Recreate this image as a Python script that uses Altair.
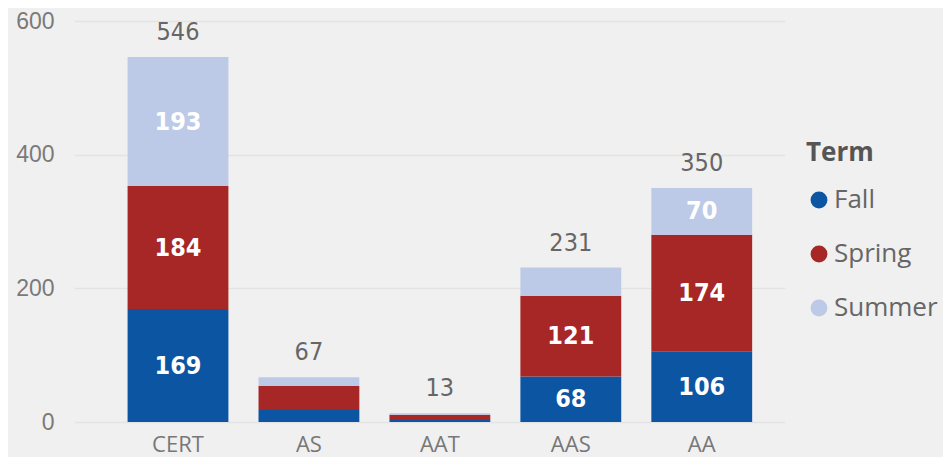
import altair as alt
import pandas as pd

categories = ["CERT", "AS", "AAT", "AAS", "AA"]
terms = ["Fall", "Spring", "Summer"]
fall = [169, 18, 3, 68, 106]
spring = [184, 36, 8, 121, 174]
summer = [193, 13, 2, 42, 70]
colors = ["#0B55A3", "#A72626", "#BCCAE7"]

rows = []
for i, c in enumerate(categories):
    for j, (t, vals) in enumerate(zip(terms, [fall, spring, summer])):
        rows.append({"Degree": c, "Term": t, "Value": vals[i], "ord": j})
df = pd.DataFrame(rows)

FONT = "Open Sans"
AXFONT = "Liberation Sans"
NUMFONT = "DejaVu Sans Condensed"

x_enc = alt.X("Degree:N", sort=categories, title=None,
              scale=alt.Scale(paddingInner=0.23, paddingOuter=0.33, align=0.62),
              axis=alt.Axis(labelAngle=0, labelFontSize=22, labelColor="#777777",
                            labelFont=FONT, domain=False, ticks=False, labelPadding=12))

base = alt.Chart(df)

bars = base.mark_bar().encode(
    x=x_enc,
    y=alt.Y("sum(Value):Q", stack="zero", title=None,
            scale=alt.Scale(domain=[0, 600], nice=False),
            axis=alt.Axis(values=[0, 200, 400, 600], labelFontSize=23, labelColor="#7a7a7a",
                          labelFont=AXFONT, domain=False, ticks=False, labelPadding=20,
                          gridColor="#e3e3e3", gridWidth=1.5)),
    color=alt.Color("Term:N", sort=terms,
                    scale=alt.Scale(domain=terms, range=colors),
                    legend=alt.Legend(title="Term", orient="none", legendX=732, legendY=119,
                                      titleFontSize=26, titleFont=FONT, titleColor="#555555",
                                      titleFontWeight="bold", titlePadding=21,
                                      labelFontSize=26, labelFont=FONT, labelColor="#666666",
                                      symbolType="circle", symbolSize=284, symbolStrokeWidth=0,
                                      symbolOpacity=1, labelOffset=2, rowPadding=28)),
    order=alt.Order("ord:Q", sort="ascending"),
)

inside = base.transform_stack(
    stack="Value", groupby=["Degree"], sort=[alt.SortField("ord", "ascending")], as_=["y0", "y1"]
).transform_calculate(
    mid="(datum.y0 + datum.y1) / 2"
).transform_filter(
    "datum.Value >= 60"
).mark_text(font=NUMFONT, fontSize=25, fontWeight="bold", color="white", baseline="middle").encode(
    x=alt.X("Degree:N", sort=categories),
    y=alt.Y("mid:Q"),
    text=alt.Text("Value:Q"),
)

totals = base.transform_aggregate(
    total="sum(Value)", groupby=["Degree"]
).mark_text(font=NUMFONT, fontSize=25, color="#666666", baseline="alphabetic", dy=-17).encode(
    x=alt.X("Degree:N", sort=categories),
    y=alt.Y("total:Q"),
    text=alt.Text("total:Q"),
)

chart = alt.layer(bars, inside, totals).properties(
    width=711, height=401,
    autosize=alt.AutoSizeParams(type="none"),
    padding={"left": 66, "top": 13, "right": 158, "bottom": 35},
    background="#f0f0f0",
).configure_view(stroke=None)

chart.save("out.html", embed_options={"renderer": "svg", "actions": False})
